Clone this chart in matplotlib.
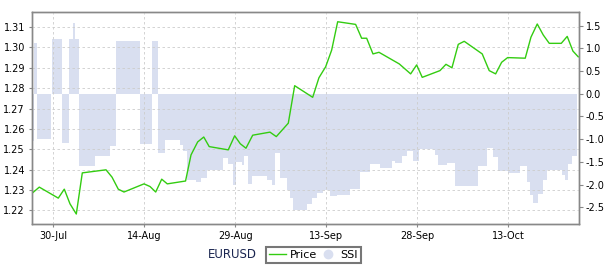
import numpy as np
import pandas as pd
import matplotlib
matplotlib.use('Agg')
import matplotlib.pyplot as plt
import matplotlib.dates as mdates
from matplotlib.lines import Line2D

plt.rcParams['font.family'] = 'DejaVu Sans'
plt.rcParams['axes.unicode_minus'] = False

# days counted from 30 Jul 2012
base = pd.Timestamp('2012-07-30')

price_day = [-3.46, -2.31, 0.82, 1.81, 2.75, 3.79, 4.78, 8.69, 9.68, 10.71, 11.65,
             14.95, 15.94, 16.88, 17.87, 18.79, 21.8, 22.7, 23.8, 24.8, 25.7,
             28.84, 29.9, 30.82, 31.76, 32.87, 35.72, 36.76, 38.74, 39.79,
             42.76, 43.79, 44.9, 45.89, 46.88, 49.84, 50.83, 51.66, 52.7, 53.69,
             57.03, 58.91, 59.9, 60.82, 63.74, 64.73, 65.72, 66.76, 67.74,
             70.71, 71.86, 72.92, 73.91, 74.9, 77.8, 78.74, 79.78, 80.77, 81.76,
             83.74, 84.72, 85.66, 86.53]
price = [1.2285, 1.2314, 1.2260, 1.2304, 1.2232, 1.2182, 1.2384, 1.2399, 1.2363,
         1.2304, 1.2290, 1.2330, 1.2317, 1.2290, 1.2353, 1.2330, 1.2344, 1.2472,
         1.2536, 1.2560, 1.2513, 1.2497, 1.2566, 1.2527, 1.2505, 1.2569, 1.2584,
         1.2562, 1.2628, 1.2812, 1.2755, 1.2851, 1.2905, 1.2987, 1.3126, 1.3113,
         1.3045, 1.3045, 1.2968, 1.2976, 1.2919, 1.2870, 1.2914, 1.2853, 1.2886,
         1.2917, 1.2900, 1.3015, 1.3030, 1.2968, 1.2886, 1.2870, 1.2927, 1.2950,
         1.2947, 1.3050, 1.3115, 1.3061, 1.3020, 1.3020, 1.3054, 1.2982, 1.2954]

# SSI: value holds from each day until the next one
ssi_day = [-3.40, -3.18, -2.69, -0.43, -0.21, 1.38, 2.59, 3.30, 3.60, 4.24, 6.87,
           9.35, 10.33, 14.29, 16.22, 17.31, 18.41, 20.88, 21.43, 22.09, 23.5,
           24.4, 25.28, 28.02, 28.84, 29.57, 30.11, 31.05, 31.43, 32.14, 32.70,
           35.17, 36.0, 36.54, 37.37, 38.47, 39.01, 39.56, 41.77, 42.59, 43.42,
           44.50, 45.61, 46.71, 48.90, 50.56, 52.21, 53.85, 55.78, 56.32, 57.43,
           58.25, 59.34, 60.33, 62.91, 63.46, 64.84, 66.21, 70.05, 71.44, 72.52,
           73.35, 75.0, 76.93, 78.03, 78.58, 79.12, 79.94, 80.77, 81.33, 83.80,
           84.34, 84.89, 85.45, 86.27]
ssi = [-1.05, 1.12, -0.99, 0.0, 1.20, -1.09, 1.20, 1.55, 1.20, -1.59, -1.38,
       -1.16, 1.17, -1.10, 1.16, -1.30, -1.01, -1.12, -1.27, -1.89, -1.95,
       -1.85, -1.67, -1.42, -1.55, -2.0, -1.5, -1.56, -1.38, -1.98, -1.82,
       -1.9, -2.0, -1.31, -1.85, -2.11, -2.3, -2.57, -2.42, -2.3, -2.19,
       -2.13, -2.26, -2.22, -2.1, -1.72, -1.55, -1.64, -1.49, -1.52, -1.38,
       -1.27, -1.49, -1.22, -1.35, -1.56, -1.52, -2.04, -1.60, -1.20, -1.40,
       -1.71, -1.75, -1.6, -1.95, -2.22, -2.41, -2.2, -1.89, -1.69, -1.80,
       -1.89, -1.55, -1.38, -1.38]

tick_days = [0, 15, 30, 45, 60, 75]
price_ticks = [1.22, 1.23, 1.24, 1.25, 1.26, 1.27, 1.28, 1.29, 1.30, 1.31]
ssi_ticks = [-2.5, -2.0, -1.5, -1.0, -0.5, 0.0, 0.5, 1.0, 1.5]


def to_num(days):
    return mdates.date2num(base + pd.to_timedelta(np.asarray(days), unit='D'))


fig = plt.figure(figsize=(6.11, 2.72), dpi=100)
ax = fig.add_axes([0.0524, 0.1765, 0.8946, 0.7795])
ax2 = ax.twinx()
ax.set_zorder(ax2.get_zorder() + 1)
ax.patch.set_visible(False)

fill_col = '#d9dff0'
line_col = '#33cc11'
ax2.fill_between(to_num(ssi_day), 0, ssi, step='post', color=fill_col, linewidth=0)
ax.plot(to_num(price_day), price, color=line_col, linewidth=1.0)

ax.set_xlim(to_num([-3.51])[0], to_num([86.6])[0])
ax.set_ylim(1.2133, 1.3174)
ax2.set_ylim(-2.868, 1.80)

ax.set_xticks(to_num(tick_days))
ax.xaxis.set_major_formatter(mdates.DateFormatter('%d-%b'))
ax.set_yticks(price_ticks)
ax.set_yticklabels(['%.2f' % v for v in price_ticks])
ax2.set_yticks(ssi_ticks)
ax2.set_yticklabels(['%.1f' % v for v in ssi_ticks])

ax.grid(True, color='#cccccc', linestyle=(0, (3, 3)), linewidth=0.6)

for a in (ax, ax2):
    for s in a.spines.values():
        s.set_color('#888888')
        s.set_linewidth(1.0)
ax.tick_params(axis='both', labelsize=7, color='#888888', length=2, pad=3)
ax2.tick_params(axis='y', labelsize=7, color='#888888', length=3, pad=2)

handles = [Line2D([], [], color=line_col, linewidth=1.0),
           Line2D([], [], color=fill_col, marker='o', markersize=6, linestyle='none')]
leg = fig.legend(handles, ['Price', 'SSI'], loc='center',
                 bbox_to_anchor=(0.513, 0.0625), ncol=2, fontsize=8,
                 frameon=True, fancybox=False, handlelength=1.5,
                 handletextpad=0.3, columnspacing=0.3, borderpad=0.3,
                 borderaxespad=0)
leg.get_frame().set_edgecolor('#555555')
leg.get_frame().set_linewidth(1.5)

fig.text(0.38, 0.0625, 'EURUSD', ha='center', va='center', fontsize=8.5,
         color='#1a2550')

fig.savefig('out.png', dpi=100)
